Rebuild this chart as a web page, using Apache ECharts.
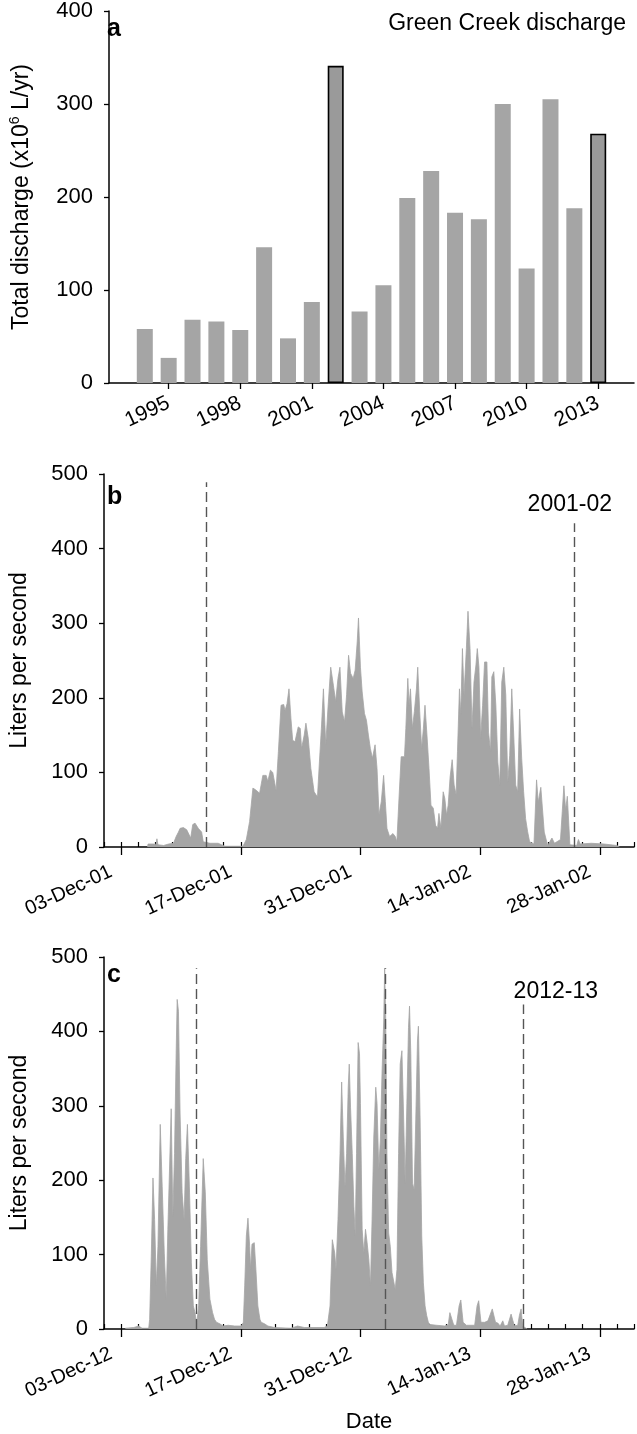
<!DOCTYPE html>
<html lang="en">
<head>
<meta charset="UTF-8">
<title>Green Creek discharge</title>
<style>
  html, body { margin: 0; padding: 0; background: #fff; }
  #main { width: 637px; height: 1434px; }
</style>
<script src="https://cdn.jsdelivr.net/npm/echarts@6/dist/echarts.min.js"></script>
</head>
<body>
<div id="main"></div>
<script>
// panel a - yearly totals (x10^6 L/yr)
var years = ['1993','1994','1995','1996','1997','1998','1999','2000','2001','2002','2003',
             '2004','2005','2006','2007','2008','2009','2010','2011','2012','2013','2014'];
var discharge = [null,58,27,68,66,57,146,48,87,341,77,105,199,228,183,176,300,123,305,188,268,null];
var highlightYears = ['2002','2013'];

// panel b - 2001-02 season, x = days since 01-Dec-01
var bDay = [5.10,5.15,5.81,6.08,6.19,6.31,6.97,7.55,8.13,8.44,8.71,8.90,9.29,9.68,9.91,10.14,10.38,10.65,11.03,11.42,
  11.61,12.00,12.39,13.36,13.74,14.13,16.26,16.65,17.03,17.42,17.81,18.20,18.58,18.97,19.16,19.47,19.74,20.13,20.40,20.71,
  21.02,21.18,21.41,21.64,21.87,22.07,22.34,22.72,22.96,23.11,23.42,23.62,23.89,24.20,24.58,24.97,25.20,25.43,25.67,25.94,
  26.21,26.52,26.83,27.10,27.37,27.60,27.87,28.14,28.38,28.61,28.84,29.15,29.38,29.62,29.77,30.00,30.20,30.47,30.70,30.93,
  31.16,31.40,31.71,31.94,32.17,32.44,32.71,32.91,33.10,33.41,33.80,34.07,34.26,34.53,34.76,35.15,35.31,35.54,35.69,35.85,
  36.08,36.31,36.55,36.70,36.93,37.16,37.36,37.55,37.78,38.02,38.25,38.52,38.79,39.02,39.18,39.41,39.68,39.87,40.07,40.26,
  40.49,40.73,40.96,41.19,41.35,41.58,41.73,41.93,42.12,42.39,42.58,42.82,43.05,43.28,43.51,43.67,43.86,44.06,44.29,44.52,
  44.79,44.98,45.22,45.37,45.60,45.84,46.07,46.30,46.53,46.77,47.00,47.23,47.46,47.70,47.93,48.16,48.39,48.62,48.86,49.09,
  49.32,49.55,49.79,49.94,50.30,50.60,50.80,51.10,51.50,51.90,52.40,52.70,53.40,53.80,54.00,54.20,54.50,55.30,55.50,55.70,
  57.00,58.50,60.00,60.30];
var bFlow = [0,4,4,3,11,3,2,4,5,14,20,25,26,23,25,12,30,32,25,20,
  7,6,5,5,3,1,1,10,34,79,76,72,96,96,88,103,100,76,128,190,
  191,183,192,212,172,143,141,161,159,132,150,166,146,105,74,67,114,159,212,137,
  188,241,217,195,226,241,181,168,204,257,233,226,237,275,307,241,208,179,170,150,
  132,119,137,105,43,61,96,61,25,14,18,14,7,70,121,121,159,226,190,212,
  159,182,212,241,182,132,159,190,150,105,56,52,29,25,45,25,74,65,43,56,
  94,117,83,70,128,212,177,266,204,266,316,266,159,221,244,266,241,146,190,248,
  248,154,128,228,235,190,114,83,221,241,204,87,123,212,150,83,74,185,119,74,
  38,21,7,5,4,90,60,80,20,2,12,5,10,82,50,68,3,2,10,4,
  5,4,2,0];

// panel c - 2012-13 season, x = days since 01-Dec-12
var cDay = [2.50,3.48,4.07,4.45,5.23,5.34,5.54,5.73,5.92,6.12,6.31,6.58,6.81,7.05,7.28,7.47,7.67,7.86,8.05,8.25,
  8.44,8.56,8.71,8.90,9.14,9.37,9.56,9.76,9.99,10.22,10.45,10.65,10.84,11.07,11.30,11.61,11.85,12.08,12.39,12.70,
  12.93,13.16,13.55,13.94,14.52,15.29,16.07,16.30,16.46,16.65,16.84,17.04,17.15,17.31,17.58,17.77,18.00,18.24,18.39,18.78,
  19.17,19.94,21.88,22.65,23.42,25.75,26.13,26.44,26.71,26.99,27.14,27.37,27.61,27.80,27.99,28.19,28.38,28.57,28.69,28.84,
  29.04,29.23,29.39,29.54,29.73,29.89,30.00,30.20,30.39,30.59,30.78,30.98,31.17,31.36,31.56,31.79,31.94,32.14,32.33,32.52,
  32.72,32.83,32.95,33.10,33.30,33.49,33.69,33.88,34.07,34.27,34.46,34.65,34.85,35.04,35.23,35.43,35.62,35.74,35.89,36.09,
  36.28,36.47,36.67,36.78,36.98,37.17,37.36,37.56,37.75,37.94,38.14,38.91,39.88,40.27,40.46,40.65,40.92,41.23,41.54,41.74,
  42.01,42.40,43.36,43.64,43.83,44.10,44.53,44.91,45.11,45.42,45.57,45.80,46.07,46.34,46.65,46.85,47.23,47.62,47.82,48.01,
  48.40,48.59,48.79,48.98,49.36,49.50];
var cFlow = [1,2,4,1,1,13,102,203,147,58,111,275,191,102,40,134,134,296,151,236,
  370,443,427,289,183,147,229,275,191,89,31,22,6,31,111,229,183,93,40,22,
  13,9,7,4,5,4,4,9,58,125,149,111,80,114,116,80,31,13,9,7,
  4,2,1,4,2,2,4,31,120,102,80,147,236,332,258,191,236,325,356,298,
  236,165,125,236,385,370,303,134,102,134,116,93,58,147,258,325,303,214,254,343,
  414,485,423,236,129,111,76,76,53,80,236,356,374,289,196,303,405,434,370,196,
  187,281,387,407,281,125,62,31,18,9,6,5,4,6,22,24,5,5,31,39,
  9,5,5,31,38,9,9,11,9,27,29,9,8,4,11,4,5,20,22,4,
  5,18,27,4,1,0];

// date axis labels (day offset from 1 Dec)
var labelDays = [2, 16, 30, 44, 58];
var bLabels = ['03-Dec-01', '17-Dec-01', '31-Dec-01', '14-Jan-02', '28-Jan-02'];
var cLabels = ['03-Dec-12', '17-Dec-12', '31-Dec-12', '14-Jan-13', '28-Jan-13'];

// dashed markers: [day, top value]
var bMarkers = [[12, 489], [55, 434]];
var cMarkers = [[10.75, 485], [32.9, 485], [49, 436]];

var FONT = 'Liberation Sans, Arial, sans-serif';
var GREY = '#a5a5a5';

function zip(xs, ys) {
  return xs.map(function (x, i) { return [x, ys[i]]; });
}

var minorDays = [];
for (var d = 0; d <= 62; d += 2) minorDays.push(d);

function dateAxes(gridIndex, labels, withName) {
  var main = {
    type: 'value', gridIndex: gridIndex, min: 0, max: 62,
    axisLine: { show: true, onZero: false, lineStyle: { color: '#000', width: 1.5 } },
    axisTick: { show: true, customValues: labelDays, length: 8, lineStyle: { color: '#000', width: 1.3 } },
    axisLabel: {
      customValues: labelDays, rotate: 25, margin: 19, color: '#000',
      fontSize: 20, fontFamily: FONT,
      // trailing spaces pull the rotated text a little left of its tick, as in the original
      formatter: function (v) { return (labels[labelDays.indexOf(Math.round(v))] || '') + '  '; }
    },
    splitLine: { show: false }
  };
  if (withName) {
    main.name = 'Date';
    main.nameLocation = 'middle';
    main.nameGap = 82;
    main.nameTextStyle = { fontSize: 22, fontFamily: FONT, color: '#000' };
  }
  var minor = {
    type: 'value', gridIndex: gridIndex, min: 0, max: 62,
    axisLine: { show: false },
    axisTick: { show: true, customValues: minorDays, length: 5, lineStyle: { color: '#000', width: 1.2 } },
    axisLabel: { show: false },
    splitLine: { show: false }
  };
  return [main, minor];
}

function flowAxis(gridIndex) {
  return {
    type: 'value', gridIndex: gridIndex, min: 0, max: 500, interval: 100,
    name: 'Liters per second', nameLocation: 'middle', nameGap: 73, nameRotate: 90,
    nameTextStyle: { fontSize: 23, fontFamily: FONT, color: '#000' },
    axisLine: { show: true, lineStyle: { color: '#000', width: 1.5 } },
    axisTick: { show: true, length: 5, lineStyle: { color: '#000', width: 1.3 } },
    axisLabel: { fontSize: 22, fontFamily: FONT, color: '#000', margin: 16 },
    splitLine: { show: false }
  };
}

function markerLines(list) {
  return {
    silent: true, symbol: 'none', label: { show: false },
    lineStyle: { type: [10, 5], color: '#555', width: 1.4 },
    data: list.map(function (m) {
      return [{ coord: [m[0], 0] }, { coord: [m[0], m[1]] }];
    })
  };
}

function flowSeries(xAxisIndex, yAxisIndex, days, flow, markers) {
  return {
    type: 'line', xAxisIndex: xAxisIndex, yAxisIndex: yAxisIndex,
    data: zip(days, flow), showSymbol: false, symbol: 'none',
    lineStyle: { color: GREY, width: 0.8 },
    areaStyle: { color: GREY, opacity: 1 },
    markLine: markerLines(markers)
  };
}

var yearTick = function (idx, val) { return (parseInt(val, 10) - 1995) % 3 === 0; };

var barData = discharge.map(function (v, i) {
  if (highlightYears.indexOf(years[i]) >= 0) {
    return { value: v, itemStyle: { color: '#9a9a9a', borderColor: '#000', borderWidth: 1.6 } };
  }
  return v;
});

var chart = echarts.init(document.getElementById('main'));
chart.setOption({
  animation: false,
  backgroundColor: '#fff',
  textStyle: { fontFamily: FONT },
  grid: [
    { left: 100, top: 10, width: 534, height: 373 },
    { left: 100, top: 474, width: 534, height: 373 },
    { left: 100, top: 957, width: 534, height: 375 }
  ],
  xAxis: [
    {
      type: 'category', gridIndex: 0, data: years,
      axisLine: { show: true, lineStyle: { color: '#000', width: 1.5 } },
      axisTick: { show: true, alignWithLabel: true, interval: yearTick, length: 6, lineStyle: { color: '#000', width: 1.3 } },
      axisLabel: { interval: yearTick, rotate: 25, margin: 19, fontSize: 21, fontFamily: FONT, color: '#000' }
    }
  ].concat(dateAxes(1, bLabels, false), dateAxes(2, cLabels, true)),
  yAxis: [
    {
      type: 'value', gridIndex: 0, min: 0, max: 400, interval: 100,
      name: '{t|Total discharge (x10}{s|6}{t| L/yr)}', nameLocation: 'middle', nameGap: 74, nameRotate: 90,
      nameTextStyle: {
        rich: {
          t: { fontSize: 23, fontFamily: FONT, color: '#000', lineHeight: 27 },
          s: { fontSize: 14, fontFamily: FONT, color: '#000', lineHeight: 27, verticalAlign: 'top' }
        }
      },
      axisLine: { show: true, lineStyle: { color: '#000', width: 1.5 } },
      axisTick: { show: true, length: 5, lineStyle: { color: '#000', width: 1.3 } },
      axisLabel: { fontSize: 22, fontFamily: FONT, color: '#000', margin: 16 },
      splitLine: { show: false }
    },
    flowAxis(1),
    flowAxis(2)
  ],
  graphic: [
    { type: 'text', left: 107, top: 17, style: { text: 'a', font: 'bold 25px ' + FONT, fill: '#000' } },
    { type: 'text', right: 11, top: 12, style: { text: 'Green Creek discharge', font: '23px ' + FONT, fill: '#000' } },
    { type: 'text', left: 107, top: 485, style: { text: 'b', font: 'bold 25px ' + FONT, fill: '#000' } },
    { type: 'text', right: 25, top: 493, style: { text: '2001-02', font: '23px ' + FONT, fill: '#000' } },
    { type: 'text', left: 107, top: 963, style: { text: 'c', font: 'bold 25px ' + FONT, fill: '#000' } },
    { type: 'text', right: 39, top: 980, style: { text: '2012-13', font: '23px ' + FONT, fill: '#000' } }
  ],
  series: [
    {
      type: 'bar', xAxisIndex: 0, yAxisIndex: 0, data: barData,
      barWidth: 16, itemStyle: { color: GREY }
    },
    flowSeries(1, 1, bDay, bFlow, bMarkers),
    flowSeries(3, 2, cDay, cFlow, cMarkers)
  ]
});
</script>
</body>
</html>
